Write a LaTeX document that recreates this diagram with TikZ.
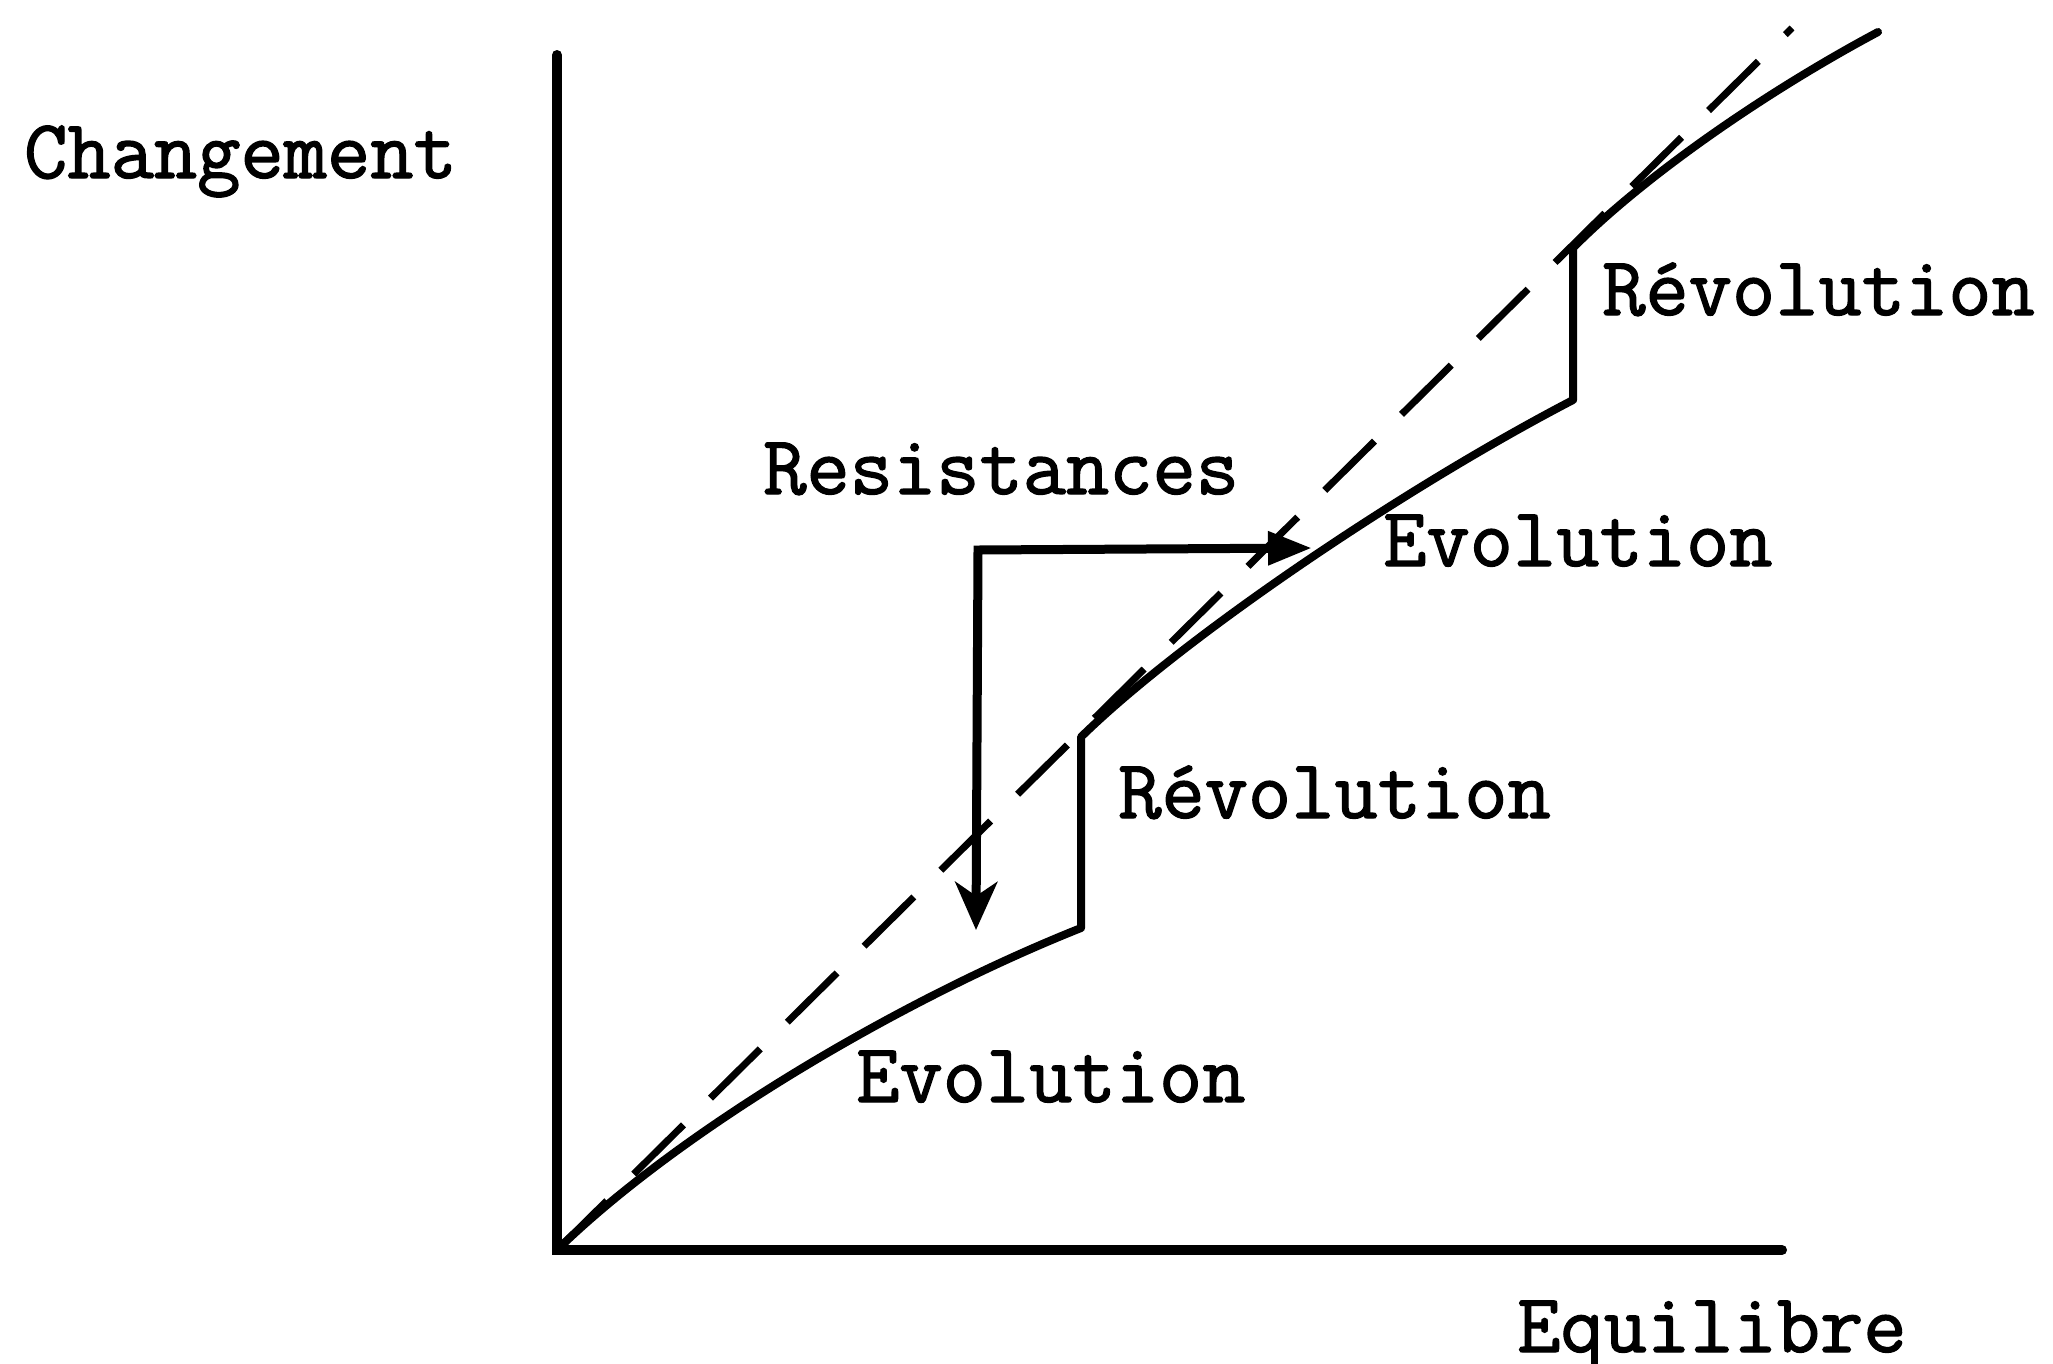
\documentclass[tikz,border=0pt]{standalone}
\usepackage{fontspec}
\newfontfamily\typew[AutoFakeBold=1.6]{Latin Modern Mono}
\usetikzlibrary{arrows.meta}
\begin{document}
\begin{tikzpicture}[x=1pt,y=-1pt,
  lbl/.style={font=\fontsize{84}{92}\selectfont\typew\bfseries, anchor=base west, inner sep=0pt},
  axisline/.style={line width=10pt, line cap=round},
  curveline/.style={line width=8pt, line join=round, line cap=round},
  guideline/.style={line width=7pt, dash pattern=on 70pt off 38pt},
  flowline/.style={line width=9pt, line join=miter}]
\fill[white] (0,0) rectangle (2053,1363);
\useasboundingbox (0,0) rectangle (2053,1363);
% key points
\coordinate (O) at (557,1250);
\coordinate (Ytop) at (557,55);
\coordinate (Xend) at (1782,1250);
\coordinate (Dtop) at (1792,28);
\coordinate (S1b) at (1081,928);
\coordinate (S1t) at (1081,737);
\coordinate (S2b) at (1573,400);
\coordinate (S2t) at (1573,248);
\coordinate (Cend) at (1878,32);
\coordinate (corner) at (978,550);
\coordinate (rtip) at (1312,548);
\coordinate (dtip) at (976,930);
% axes
\draw[axisline] (Ytop) -- (O) -- (Xend);
% dashed guide
\draw[guideline] (O) -- (Dtop);
% evolution / revolution curve
\draw[curveline] (O) .. controls (680,1130) and (900,1000) .. (S1b)
  -- (S1t) .. controls (1180,640) and (1400,490) .. (S2b)
  -- (S2t) .. controls (1640,180) and (1760,95) .. (Cend);
% resistances arrows
\draw[flowline, {Triangle[length=44pt,width=32pt]}-{Stealth[length=48pt,width=42pt,inset=14pt]}]
  (rtip) -- (corner) -- (dtip);
% labels
\node[lbl] (changement) at (24,178) {Changement};
\node[lbl] (resist) at (763,494) {Resistances};
\node[lbl] (evol1) at (1383,566) {Evolution};
\node[lbl] (revol1) at (1602,315) {Révolution};
\node[lbl] (revol2) at (1118,818) {Révolution};
\node[lbl] (evol2) at (856,1102) {Evolution};
\node[lbl] (equil) at (1517,1352) {Equilibre};
\end{tikzpicture}
\end{document}
